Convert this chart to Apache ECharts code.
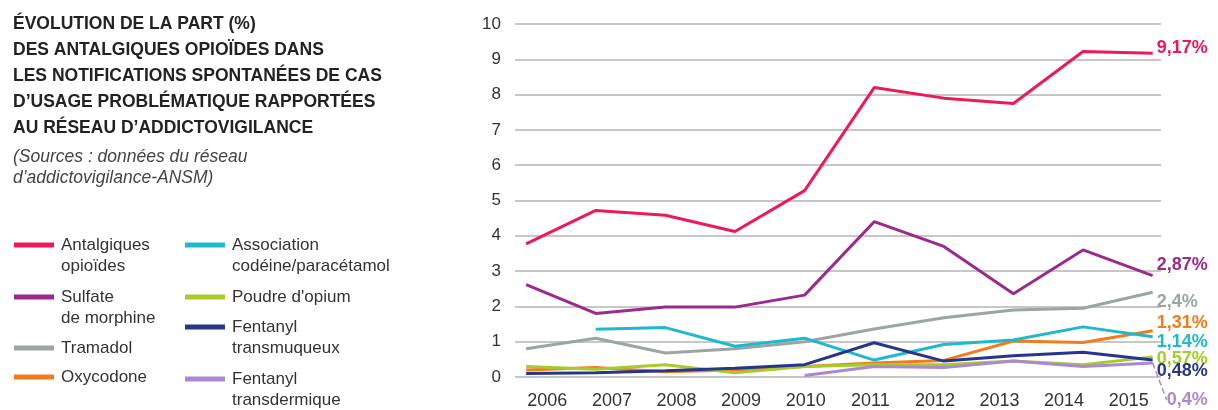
<!DOCTYPE html>
<html>
<head>
<meta charset="utf-8">
<script src="https://cdn.jsdelivr.net/npm/echarts@6/dist/echarts.min.js"></script>
<style>
  html, body { margin: 0; padding: 0; background: #fff; }
  #chart { width: 1218px; height: 410px; }
</style>
</head>
<body>
<div id="chart"></div>
<script>
// data
const years = ["2006", "2007", "2008", "2009", "2010", "2011", "2012", "2013", "2014", "2015"];
const yTicks = [0, 1, 2, 3, 4, 5, 6, 7, 8, 9, 10];

const antalgiques = [3.77, 4.72, 4.58, 4.12, 5.28, 8.2, 7.9, 7.75, 9.22, 9.17];
const morphine = [2.62, 1.8, 1.98, 1.98, 2.32, 4.4, 3.7, 2.36, 3.6, 2.87];
const tramadol = [0.8, 1.1, 0.68, 0.8, 1.0, 1.36, 1.68, 1.9, 1.95, 2.4];
const oxycodone = [0.2, 0.27, 0.15, 0.2, 0.3, 0.4, 0.47, 1.02, 0.98, 1.31];
const codeine = [null, 1.35, 1.4, 0.87, 1.1, 0.48, 0.92, 1.05, 1.42, 1.14];
const opium = [0.3, 0.22, 0.35, 0.12, 0.3, 0.35, 0.35, 0.45, 0.35, 0.57];
const fentaMuq = [0.1, 0.12, 0.18, 0.25, 0.35, 0.97, 0.45, 0.6, 0.7, 0.48];
const fentaDerm = [null, null, null, null, 0.04, 0.3, 0.27, 0.45, 0.3, 0.4];

const FONT = '"Liberation Sans", Arial, sans-serif';

const chart = echarts.init(document.getElementById("chart"));

function fmt(v) {
  return String(v).replace(".", ",") + "%";
}

// name, values, colour, end label shift
const lines = [
  ["Antalgiques opioïdes", antalgiques, "#ec1a58", -5],
  ["Sulfate de morphine", morphine, "#9a2a8e", -11],
  ["Tramadol", tramadol, "#9ba5a1", 10],
  ["Oxycodone", oxycodone, "#f27c1c", -8],
  ["Association codéine/paracétamol", codeine, "#1fb9cf", 5],
  ["Poudre d'opium", opium, "#a8cb2c", 2],
  ["Fentanyl transmuqueux", fentaMuq, "#28358c", 11],
  ["Fentanyl transdermique", fentaDerm, "#a98ad2", 37],
];

const series = lines.map(function (l) {
  const vals = l[1];
  const last = vals.length - 1;
  const pts = [];
  vals.forEach(function (v, i) {
    if (v === null) return;
    if (i === last) pts.push({ value: [i, v], label: { show: true } });
    else pts.push([i, v]);
  });
  const s = {
    name: l[0],
    type: "line",
    xAxisIndex: 0,
    symbol: "circle",
    symbolSize: 0,
    showSymbol: true,
    z: 3,
    lineStyle: { width: 3, color: l[2] },
    itemStyle: { color: l[2] },
    data: pts,
    label: {
      show: false,
      position: "right",
      distance: 4,
      formatter: function (p) { return fmt(p.value[1]); },
      color: l[2],
      fontFamily: FONT,
      fontSize: 18,
      fontWeight: "bold",
    },
    labelLayout: { dy: l[3] },
  };
  if (l[0] === "Fentanyl transdermique") {
    s.labelLayout = { dy: l[3], dx: 10 };
    s.labelLine = {
      show: true,
      lineStyle: { type: "dashed", color: l[2], width: 1.5 },
    };
  }
  return s;
});

// one legend per entry so the two columns sit where the picture has them
// (leading blank line keeps the swatch level with the first text line)
const legendText = {
  "Antalgiques opioïdes": "\nAntalgiques\nopioïdes",
  "Sulfate de morphine": "\nSulfate\nde morphine",
  "Association codéine/paracétamol": "\nAssociation\ncodéine/paracétamol",
  "Fentanyl transmuqueux": "\nFentanyl\ntransmuqueux",
  "Fentanyl transdermique": "\nFentanyl\ntransdermique",
};
const legendPos = {
  "Antalgiques opioïdes": [14, 245],
  "Sulfate de morphine": [14, 297],
  "Tramadol": [14, 348],
  "Oxycodone": [14, 377],
  "Association codéine/paracétamol": [185, 245],
  "Poudre d'opium": [185, 297],
  "Fentanyl transmuqueux": [185, 327],
  "Fentanyl transdermique": [185, 379],
};

const legends = lines.map(function (l) {
  const two = !!legendText[l[0]];
  const pos = legendPos[l[0]];
  return {
    data: [l[0]],
    left: pos[0],
    top: two ? pos[1] - 31.5 : pos[1] - 10.5,
    padding: 0,
    selectedMode: false,
    icon: "rect",
    itemWidth: 40,
    itemHeight: 5,
    itemGap: 0,
    formatter: function (n) { return legendText[n] || n; },
    textStyle: {
      fontFamily: FONT,
      fontSize: 17,
      color: "#333",
      lineHeight: 21,
      padding: [0, 0, 0, 2],
    },
  };
});

chart.setOption({
  animation: false,
  title: [
    {
      text: "ÉVOLUTION DE LA PART (%)\nDES ANTALGIQUES OPIOÏDES DANS\nLES NOTIFICATIONS SPONTANÉES DE CAS\nD’USAGE PROBLÉMATIQUE RAPPORTÉES\nAU RÉSEAU D’ADDICTOVIGILANCE",
      left: 13,
      top: 11,
      padding: 0,
      textStyle: {
        fontFamily: FONT,
        fontSize: 17.5,
        fontWeight: "bold",
        color: "#222",
        lineHeight: 26,
      },
    },
    {
      text: "(Sources : données du réseau\nd’addictovigilance-ANSM)",
      left: 13,
      top: 147,
      padding: 0,
      textStyle: {
        fontFamily: FONT,
        fontSize: 17.5,
        fontStyle: "italic",
        fontWeight: "normal",
        color: "#444",
        lineHeight: 21,
      },
    },
  ],
  legend: legends,
  grid: { left: 515, right: 57, top: 24, bottom: 28 },
  xAxis: [
    {
      // positions of the yearly points (inset from the grid edges)
      type: "value",
      min: -0.16,
      max: 9.12,
      show: false,
    },
    {
      // year labels, centred in equal bands across the grid
      type: "category",
      data: years,
      boundaryGap: true,
      position: "bottom",
      axisLine: { show: false },
      axisTick: { show: false },
      axisLabel: {
        margin: 15,
        fontFamily: FONT,
        fontSize: 18,
        color: "#333",
      },
    },
  ],
  yAxis: {
    type: "value",
    min: yTicks[0],
    max: yTicks[yTicks.length - 1],
    interval: 1,
    axisLine: { show: false },
    axisTick: { show: false },
    axisLabel: {
      margin: 14,
      fontFamily: FONT,
      fontSize: 17,
      color: "#333",
    },
    splitLine: { lineStyle: { color: "#b4b4b4", width: 1.5 } },
  },
  series: series,
});
</script>
</body>
</html>
